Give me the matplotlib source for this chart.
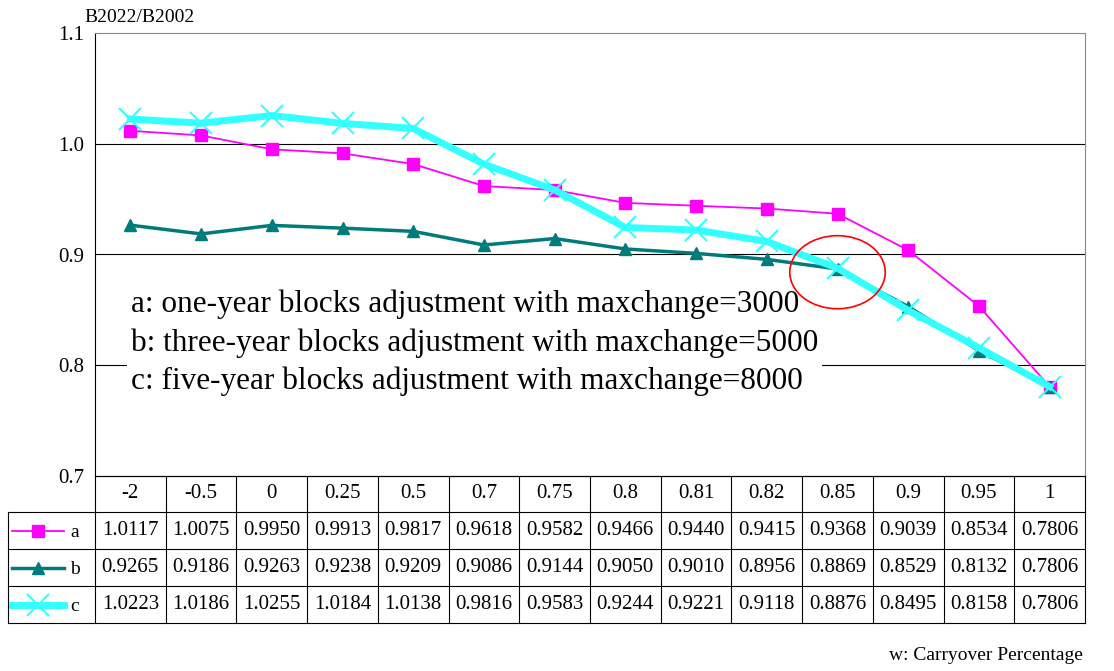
import matplotlib.pyplot as plt
from matplotlib.patches import Ellipse

plt.rcParams['font.family'] = ['Liberation Serif', 'DejaVu Serif']

w_labels = ['-2', '-0.5', '0', '0.25', '0.5', '0.7', '0.75', '0.8', '0.81', '0.82', '0.85', '0.9', '0.95', '1']
a = [1.0117, 1.0075, 0.9950, 0.9913, 0.9817, 0.9618, 0.9582, 0.9466, 0.9440, 0.9415, 0.9368, 0.9039, 0.8534, 0.7806]
b = [0.9265, 0.9186, 0.9263, 0.9238, 0.9209, 0.9086, 0.9144, 0.9050, 0.9010, 0.8956, 0.8869, 0.8529, 0.8132, 0.7806]
c = [1.0223, 1.0186, 1.0255, 1.0184, 1.0138, 0.9816, 0.9583, 0.9244, 0.9221, 0.9118, 0.8876, 0.8495, 0.8158, 0.7806]
series = [('a', a), ('b', b), ('c', c)]
styles = {
    'a': dict(color='#ff00ff', lw=1.3, marker='s', ms=8),
    'b': dict(color='#007b7b', lw=2.5, marker='^', ms=9),
    'c': dict(color='#33ffff', lw=5, marker='x', ms=16, mew=1.5),
}

W, H = 1114, 671
fig = plt.figure(figsize=(W / 100, H / 100), dpi=100)
L, R, T, B = 95, 1085, 33, 476
ax = fig.add_axes([L / W, 1 - B / H, (R - L) / W, (B - T) / H])
n = len(w_labels)
x = list(range(n))
ax.set_xlim(-0.5, n - 0.5)
ax.set_ylim(0.7, 1.1)
ax.set_yticks([0.7, 0.8, 0.9, 1.0, 1.1])
ax.set_yticklabels(['0.7', '0.8', '0.9', '1.0', '1.1'], fontsize=15)
ax.set_xticks([])
ax.tick_params(axis='y', length=0, pad=8)
for y in [0.8, 0.9, 1.0]:
    ax.axhline(y, color='black', lw=0.8, zorder=0)
for s in ax.spines.values():
    s.set_color('#888888')
ax.spines['left'].set_color('black')
ax.spines['bottom'].set_color('black')

for name, vals in series:
    ax.plot(x, vals, zorder=3, **styles[name])

ax.text(0.005, 0.82,
        'a: one-year blocks adjustment with maxchange=3000\n'
        'b: three-year blocks adjustment with maxchange=5000\n'
        'c: five-year blocks adjustment with maxchange=8000',
        fontsize=22.5, va='center', ha='left', linespacing=1.4, zorder=1,
        bbox=dict(facecolor='white', edgecolor='none', pad=3))
ax.add_patch(Ellipse((10.0, 0.884), 1.35, 0.066, fill=False, edgecolor='red', lw=1.2, zorder=4))
fig.text(140 / W, 1 - 18 / H, 'B2022/B2002', fontsize=14, ha='center', va='center')

# table
tax = fig.add_axes([0, 0, 1, 1])
tax.set_xlim(0, W)
tax.set_ylim(H, 0)
tax.axis('off')
rows = [476, 512, 549, 586, 623]
cw = (R - L) / n
kw = dict(color='black', lw=0.8)
tax.plot([L, R], [rows[0], rows[0]], **kw)
for y in rows[1:]:
    tax.plot([8, R], [y, y], **kw)
tax.plot([8, 8], [rows[1], rows[-1]], **kw)
for i in range(n + 1):
    tax.plot([L + i * cw, L + i * cw], [rows[0], rows[-1]], **kw)
for i, lab in enumerate(w_labels):
    tax.text(L + (i + 0.5) * cw, (rows[0] + rows[1]) / 2, lab, ha='center', va='center', fontsize=15)
for r, (name, vals) in enumerate(series):
    yc = (rows[r + 1] + rows[r + 2]) / 2
    tax.plot([12, 38, 64], [yc, yc, yc], markevery=[1], **styles[name])
    tax.text(70, yc + 2, name, ha='left', va='center', fontsize=14)
    for i, v in enumerate(vals):
        tax.text(L + (i + 0.5) * cw, yc, '%.4f' % v, ha='center', va='center', fontsize=15)
fig.text(1083 / W, 1 - 655 / H, 'w: Carryover Percentage', ha='right', va='center', fontsize=14)

fig.savefig('out.png', dpi=100)
